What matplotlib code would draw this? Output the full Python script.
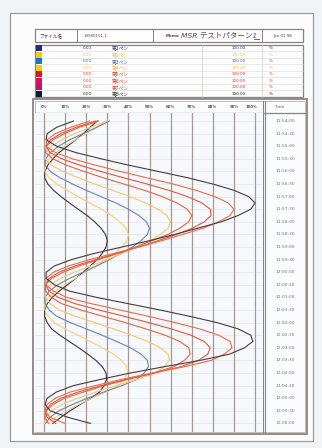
import matplotlib
matplotlib.use("Agg")
import matplotlib.pyplot as plt
import matplotlib.transforms as mtransforms
from matplotlib.patches import Rectangle
import numpy as np

plt.rcParams['font.family'] = ['DejaVu Sans', 'Noto Sans CJK JP']

# ---------------- data ----------------
# sample times in minutes after 11:54:00 (one sample every 15 s)
sample_step_min = 0.25
pen_names = ["第1ペン", "第2ペン", "第3ペン", "第4ペン", "第5ペン", "第6ペン", "第7ペン", "第8ペン"]
pen_min = ["0.00"] * 8
pen_max = ["100.00"] * 8
pen_unit = ["%"] * 8
pct_ticks = [0, 10, 20, 30, 40, 50, 60, 70, 80, 90, 100]
pct_labels = ["0%", "10%", "20%", "30%", "40%", "50%", "60%", "70%", "80%", "90%", "100%"]
time_labels = ["11:54:00", "11:54:30", "11:55:00", "11:55:30", "11:56:00", "11:56:30",
               "11:57:00", "11:57:30", "11:58:00", "11:58:30", "11:59:00", "11:59:30",
               "12:00:00", "12:00:30", "12:01:00", "12:01:30", "12:02:00", "12:02:30",
               "12:03:00", "12:03:30", "12:04:00", "12:04:30", "12:05:00", "12:05:30",
               "12:06:00"]

pen1 = [25.2, 21.9, 18.6, 15, 11.1, 7.2, 4.2, 1.8, 0.45, 0.3, 1.8, 4.5, 8.1, 12, 16.2, 20.4,
        24, 27, 29.1, 30, 29.4, 27.6, 25.2, 21.9, 18.6, 15, 11.1, 7.2, 3.9, 1.5, 0.3, 0.3,
        1.5, 3.6, 7.5, 12, 16.5, 20.7, 24.6, 27.6, 29.4, 29.7, 28.5, 26.4, 22.2, 17.1, 12.3, 8.1, 4.2]
pen2 = [29.2, 24.8, 20, 14.8, 9.6, 5.6, 2.4, 0.6, 0.4, 2.4, 6, 10.8, 16, 21.6, 27.2, 32,
        36, 38.8, 40, 39.2, 36.8, 33.6, 29.2, 24.8, 20, 14.8, 9.6, 5.2, 2, 0.4, 0.4, 2,
        4.8, 10, 16, 22, 27.6, 32.8, 36.8, 39.2, 39.6, 38, 35.2, 29.6, 22.8, 16.4, 10.8, 5.6, 2.4]
pen3 = [31, 25, 18.5, 12, 7, 3, 0.75, 0.5, 3, 7.5, 13.5, 20, 27, 34, 40, 45,
        48.5, 50, 49, 46, 42, 36.5, 31, 25, 18.5, 12, 6.5, 2.5, 0.5, 0.5, 2.5, 6,
        12.5, 20, 27.5, 34.5, 41, 46, 49, 49.5, 47.5, 44, 37, 28.5, 20.5, 13.5, 7, 3, 0.75]
pen4 = [30, 22.2, 14.4, 8.4, 3.6, 0.9, 0.6, 3.6, 9, 16.2, 24, 32.4, 40.8, 48, 54, 58.2,
        60, 58.8, 55.2, 50.4, 43.8, 37.2, 30, 22.2, 14.4, 7.8, 3, 0.6, 0.6, 3, 7.2, 15,
        24, 33, 41.4, 49.2, 55.2, 58.8, 59.4, 57, 52.8, 44.4, 34.2, 24.6, 16.2, 8.4, 3.6, 0.9, 0.3]
pen5 = [25.9, 16.8, 9.8, 4.2, 1.1, 0.7, 4.2, 10.5, 18.9, 28, 37.8, 47.6, 56, 63, 67.9, 70,
        68.6, 64.4, 58.8, 51.1, 43.4, 35, 25.9, 16.8, 9.1, 3.5, 0.7, 0.7, 3.5, 8.4, 17.5, 28,
        38.5, 48.3, 57.4, 64.4, 68.6, 69.3, 66.5, 61.6, 51.8, 39.9, 28.7, 18.9, 9.8, 4.2, 1.1, 0.4, 2.1]
pen6 = [24.4, 15.2, 8, 3, 1, 2.8, 8.4, 16.8, 26.8, 37.6, 48.8, 59.2, 68, 74.8, 78.8, 79.2,
        76, 70.4, 62.8, 54, 44.8, 34.8, 24.4, 14.8, 7.2, 2.4, 0.8, 2.4, 6.8, 14.8, 26, 38,
        49.6, 60.4, 69.6, 76, 78.8, 77.6, 73.2, 64.8, 52.4, 39.2, 27.2, 16.4, 8, 3, 0.8, 1.4, 5.6]
pen7 = [21.6, 12.6, 5.4, 1.4, 0.9, 5.4, 13.5, 24.3, 36, 48.6, 61.2, 72, 81, 87.3, 90, 88.2,
        82.8, 75.6, 65.7, 55.8, 45, 33.3, 21.6, 11.7, 4.5, 0.9, 0.9, 4.5, 10.8, 22.5, 36, 49.5,
        62.1, 73.8, 82.8, 88.2, 89.1, 85.5, 79.2, 66.6, 51.3, 36.9, 24.3, 12.6, 5.4, 1.4, 0.5, 2.7, 9.9]
pen8 = [14, 6, 1.5, 1, 6, 15, 27, 40, 54, 68, 80, 90, 97, 100, 98, 92,
        84, 73, 62, 50, 37, 24, 13, 5, 1, 1, 5, 12, 25, 40, 55, 69,
        82, 92, 98, 99, 95, 88, 74, 57, 41, 27, 14, 6, 1.5, 0.5, 3, 11, 22]

series = [pen1, pen2, pen3, pen4, pen5, pen6, pen7, pen8]
line_colors = ['#3b3346', '#f3d27e', '#6a84b4', '#f0c870', '#e8643f', '#e4563a', '#ea6c4a', '#4a3b3a']
swatch_colors = ['#1d2a8a', '#f2cb12', '#1b78c6', '#f2cb12', '#e3151f', '#d4135c', '#c9126e', '#121a30']
text_colors = ['#2c3070', '#e9c24a', '#3a66b0', '#e9c24a', '#e23a26', '#e23a26', '#e23a26', '#2a2a2a']

# ---------------- figure ----------------
W, H = 322, 448
fig = plt.figure(figsize=(W / 100, H / 100), dpi=100)
fig.patch.set_facecolor('#f1f3f5')

ov = fig.add_axes([0, 0, 1, 1], zorder=0)
ov.set_xlim(0, W)
ov.set_ylim(H, 0)
ov.axis('off')

frame_c = '#8c847f'
thin_c = '#b9b3ae'

# page
ov.add_patch(Rectangle((10, 13), 303, 428, facecolor='#fcfcfd', edgecolor='#9c9c9c', lw=0.9))

# header row 1
ov.add_patch(Rectangle((35, 29), 268, 13, facecolor='#fdfdfd', edgecolor=frame_c, lw=0.9))
for xd in (77, 153, 262):
    ov.plot([xd, xd], [29, 42], color=frame_c, lw=0.7)
ov.text(39, 35.8, "ファイル名", fontsize=3.3, va='center', ha='left', color='#333333')
ov.text(84, 35.8, "19980101-1", fontsize=2.9, va='center', ha='left', color='#555555')
ov.text(166, 35.8, "Memo", fontsize=2.9, va='center', ha='left', color='#444444', weight='bold')
ov.text(181, 35.3, "MSR テストパターン1", fontsize=5.4, va='center', ha='left', color='#4b4c5e',
        style='italic')
ov.plot([254, 259], [39.5, 39.5], color='#4b4c5e', lw=0.6)
ov.text(282.5, 35.8, "Jan 01 98", fontsize=2.9, va='center', ha='center', color='#444444')

# pen table
tb_top, tb_bot = 45, 97
row_h = (tb_bot - tb_top) / len(pen_names)
ov.add_patch(Rectangle((35, tb_top), 268, tb_bot - tb_top, facecolor='#fdfdfd', edgecolor=frame_c, lw=0.9))
for i in range(1, len(pen_names)):
    yy = tb_top + i * row_h
    ov.plot([43, 303], [yy, yy], color='#dcd8d5', lw=0.4)
for xd in (202, 262):
    ov.plot([xd, xd], [tb_top, tb_bot], color='#d0cbc7', lw=0.5)
for i, name in enumerate(pen_names):
    yc = tb_top + (i + 0.5) * row_h
    ov.add_patch(Rectangle((36, tb_top + i * row_h + 0.3), 6.5, row_h - 0.6,
                           facecolor=swatch_colors[i], edgecolor='none'))
    ov.text(92, yc, pen_min[i], fontsize=3.0, va='center', ha='right', color=text_colors[i])
    ov.text(112, yc, name, fontsize=3.3, va='center', ha='left', color=text_colors[i])
    ov.text(246, yc, pen_max[i], fontsize=3.0, va='center', ha='right', color=text_colors[i])
    ov.text(269, yc, pen_unit[i], fontsize=3.0, va='center', ha='left', color=text_colors[i])

# chart frame
ov.add_patch(Rectangle((33, 99), 274, 335, facecolor='#fbfcfd', edgecolor=frame_c, lw=1.3))
ov.add_patch(Rectangle((35, 101), 270, 331, facecolor='none', edgecolor=thin_c, lw=0.6))
ov.plot([35, 305], [113, 113], color=frame_c, lw=0.9)
ov.plot([263, 263], [101, 432], color=frame_c, lw=0.8)
ov.plot([265.5, 265.5], [101, 432], color=frame_c, lw=0.8)

# data axes
x0_px, x1_px, y0_px, y1_px = 35, 263, 113, 432
ax = fig.add_axes([x0_px / W, 1 - y1_px / H, (x1_px - x0_px) / W, (y1_px - y0_px) / H], zorder=1)
ax.set_facecolor('#f6f8fb')
px_per_pct = 2.11
pct0_px = 44
px_per_min = 25.2
t0_px = 121
ax.set_xlim((x0_px - pct0_px) / px_per_pct, (x1_px - pct0_px) / px_per_pct)
ax.set_ylim((y1_px - t0_px) / px_per_min, (y0_px - t0_px) / px_per_min)
for s in ax.spines.values():
    s.set_visible(False)
ax.set_xticks([])
ax.set_yticks([])

label_times = [i * 0.5 for i in range(len(time_labels))]
for tt in label_times:
    ax.axhline(tt, color='#e3e7ee', lw=0.5, zorder=1)
for p in pct_ticks:
    ax.axvline(p, color='#a39a94', lw=0.9, zorder=2)

n = len(pen8)
t = np.arange(n) * sample_step_min
for vals, col in zip(series, line_colors):
    ax.plot(vals, t, color=col, lw=0.8, zorder=3, solid_joinstyle='round')

# percent labels (top row)
trans_pct = mtransforms.blended_transform_factory(ax.transData, ov.transData)
for p, lab in zip(pct_ticks, pct_labels):
    xpos = p if p < 100 else 98.5
    ax.text(xpos, 107, lab, transform=trans_pct, fontsize=2.8, ha='center', va='center',
            color='#555555', clip_on=False, weight='bold')

# time labels (right column)
trans_time = mtransforms.blended_transform_factory(ov.transData, ax.transData)
for tt, lab in zip(label_times, time_labels):
    ax.text(285.5, tt, lab, transform=trans_time, fontsize=3.2, ha='center', va='center',
            color='#767676', clip_on=False)
ov.text(274, 107, "Time", fontsize=3.0, ha='left', va='center', color='#555555')

fig.savefig("out.png", dpi=100, facecolor=fig.get_facecolor())
